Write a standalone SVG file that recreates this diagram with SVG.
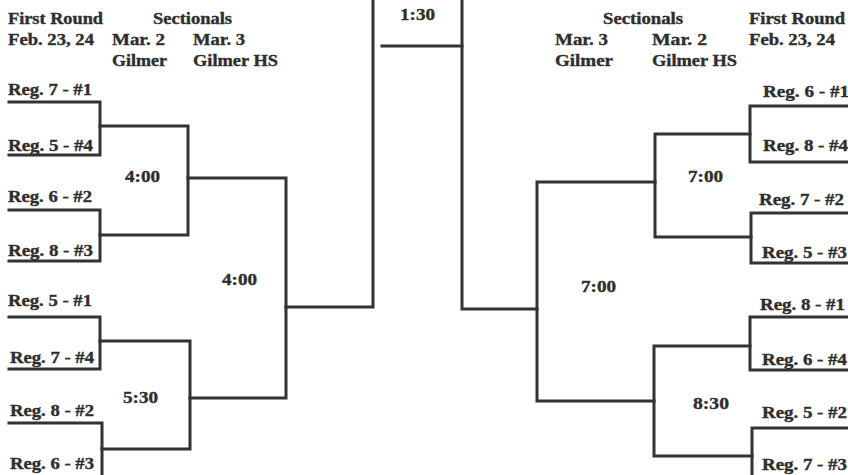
<svg xmlns="http://www.w3.org/2000/svg" width="848" height="475" viewBox="0 0 848 475">
<style>
text{font-family:"Liberation Serif","Times New Roman",serif;font-weight:bold;font-size:16px;fill:#2e2e2e;stroke:#2e2e2e;stroke-width:0.35}
.ln{fill:none;stroke:#333;stroke-width:3;stroke-linecap:square;stroke-linejoin:miter}
</style>
<rect width="848" height="475" fill="#fff"/>
<g id="headers">
<text x="8" y="24" textLength="95" lengthAdjust="spacingAndGlyphs">First Round</text>
<text x="153" y="24" textLength="79" lengthAdjust="spacingAndGlyphs">Sectionals</text>
<text x="8" y="45" textLength="86" lengthAdjust="spacingAndGlyphs">Feb. 23, 24</text>
<text x="112" y="45" textLength="53" lengthAdjust="spacingAndGlyphs">Mar. 2</text>
<text x="193" y="45" textLength="52" lengthAdjust="spacingAndGlyphs">Mar. 3</text>
<text x="112" y="66" textLength="55" lengthAdjust="spacingAndGlyphs">Gilmer</text>
<text x="193" y="66" textLength="85" lengthAdjust="spacingAndGlyphs">Gilmer HS</text>
<text x="603" y="24" textLength="80" lengthAdjust="spacingAndGlyphs">Sectionals</text>
<text x="749" y="24" textLength="96" lengthAdjust="spacingAndGlyphs">First Round</text>
<text x="555" y="45" textLength="53" lengthAdjust="spacingAndGlyphs">Mar. 3</text>
<text x="652" y="45" textLength="55" lengthAdjust="spacingAndGlyphs">Mar. 2</text>
<text x="749" y="45" textLength="86" lengthAdjust="spacingAndGlyphs">Feb. 23, 24</text>
<text x="555" y="66" textLength="58" lengthAdjust="spacingAndGlyphs">Gilmer</text>
<text x="652" y="66" textLength="85" lengthAdjust="spacingAndGlyphs">Gilmer HS</text>
</g>
<g id="connectors">
<path class="ln" d="M9 102 H100 V155 H9"/>
<path class="ln" d="M9 210 H100 V261 H9"/>
<path class="ln" d="M100 126 H188 V235 H100"/>
<path class="ln" d="M9 317 H100 V369 H9"/>
<path class="ln" d="M9 423 H102 V476"/>
<path class="ln" d="M100 341 H190 V449 H102"/>
<path class="ln" d="M188 178 H286 V398 H190"/>
<path class="ln" d="M286 307 H373 V-2"/>
<path class="ln" d="M462 -2 V309 H537"/>
<path class="ln" d="M382 46 H462"/>
<path class="ln" d="M655 182 H537 V401 H654"/>
<path class="ln" d="M850 106 H750 V162 H850"/>
<path class="ln" d="M850 213 H751 V263 H850"/>
<path class="ln" d="M750 134 H655 V237 H751"/>
<path class="ln" d="M850 317 H750 V370 H850"/>
<path class="ln" d="M850 428 H752 V477"/>
<path class="ln" d="M750 346 H654 V456 H752"/>
</g>
<g id="team-L1"><text x="8" y="95" textLength="84" lengthAdjust="spacingAndGlyphs">Reg. 7 - #1</text></g>
<g id="team-L2"><text x="8" y="151" textLength="85" lengthAdjust="spacingAndGlyphs">Reg. 5 - #4</text></g>
<g id="team-L3"><text x="8" y="202" textLength="84" lengthAdjust="spacingAndGlyphs">Reg. 6 - #2</text></g>
<g id="team-L4"><text x="8" y="256" textLength="85" lengthAdjust="spacingAndGlyphs">Reg. 8 - #3</text></g>
<g id="team-L5"><text x="8" y="306" textLength="84" lengthAdjust="spacingAndGlyphs">Reg. 5 - #1</text></g>
<g id="team-L6"><text x="10" y="363" textLength="84" lengthAdjust="spacingAndGlyphs">Reg. 7 - #4</text></g>
<g id="team-L7"><text x="10" y="416" textLength="84" lengthAdjust="spacingAndGlyphs">Reg. 8 - #2</text></g>
<g id="team-L8"><text x="10" y="469" textLength="84" lengthAdjust="spacingAndGlyphs">Reg. 6 - #3</text></g>
<g id="team-R1"><text x="763" y="97" textLength="86" lengthAdjust="spacingAndGlyphs">Reg. 6 - #1</text></g>
<g id="team-R2"><text x="763" y="151" textLength="85" lengthAdjust="spacingAndGlyphs">Reg. 8 - #4</text></g>
<g id="team-R3"><text x="759" y="205" textLength="85" lengthAdjust="spacingAndGlyphs">Reg. 7 - #2</text></g>
<g id="team-R4"><text x="762" y="258" textLength="85" lengthAdjust="spacingAndGlyphs">Reg. 5 - #3</text></g>
<g id="team-R5"><text x="760" y="310" textLength="85" lengthAdjust="spacingAndGlyphs">Reg. 8 - #1</text></g>
<g id="team-R6"><text x="762" y="365" textLength="85" lengthAdjust="spacingAndGlyphs">Reg. 6 - #4</text></g>
<g id="team-R7"><text x="762" y="418" textLength="85" lengthAdjust="spacingAndGlyphs">Reg. 5 - #2</text></g>
<g id="team-R8"><text x="762" y="470" textLength="85" lengthAdjust="spacingAndGlyphs">Reg. 7 - #3</text></g>
<g id="game-L-top"><text x="125" y="182" textLength="35" lengthAdjust="spacingAndGlyphs">4:00</text></g>
<g id="game-L-bottom"><text x="123" y="403" textLength="35" lengthAdjust="spacingAndGlyphs">5:30</text></g>
<g id="game-L-semi"><text x="222" y="285" textLength="35" lengthAdjust="spacingAndGlyphs">4:00</text></g>
<g id="game-final"><text x="400" y="20" textLength="35" lengthAdjust="spacingAndGlyphs">1:30</text></g>
<g id="game-R-semi"><text x="581" y="292" textLength="35" lengthAdjust="spacingAndGlyphs">7:00</text></g>
<g id="game-R-top"><text x="688" y="182" textLength="35" lengthAdjust="spacingAndGlyphs">7:00</text></g>
<g id="game-R-bottom"><text x="693" y="409" textLength="36" lengthAdjust="spacingAndGlyphs">8:30</text></g>
</svg>
